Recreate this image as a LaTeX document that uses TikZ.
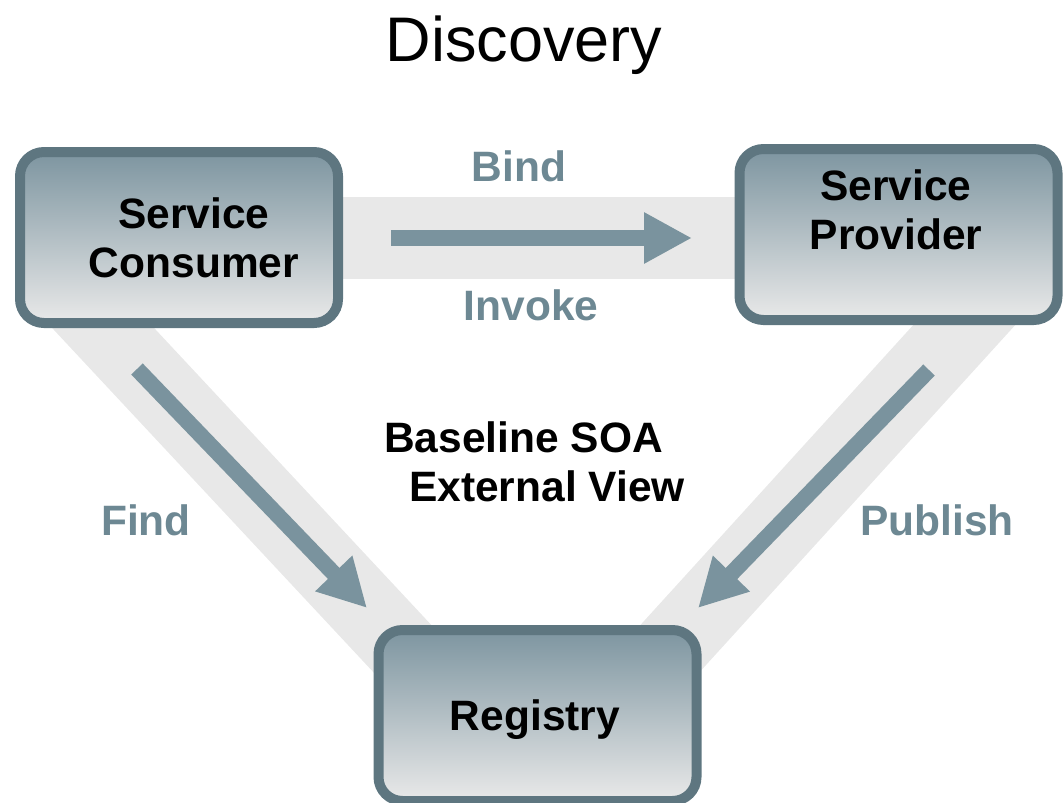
\documentclass[tikz,border=0pt]{standalone}
\usepackage{fontspec}
\setmainfont{Liberation Sans}
\usetikzlibrary{arrows.meta}

\definecolor{slateborder}{HTML}{5E7680}
\definecolor{slatetop}{HTML}{7D95A0}
\definecolor{slatemid}{HTML}{B9C4C9}
\definecolor{paleface}{HTML}{E9E9E9}
\definecolor{bandgray}{HTML}{E8E8E8}
\definecolor{arrowslate}{HTML}{7A939E}
\definecolor{labelslate}{HTML}{6D8893}

\begin{document}
\begin{tikzpicture}[x=1pt,y=-1pt,
  rolebox/.style={draw=slateborder, line width=10pt, rounded corners=24pt,
    top color=slatetop, middle color=slatemid, bottom color=paleface,
    minimum width=318pt, minimum height=171pt, inner sep=0pt},
  boxtext/.style={font=\fontsize{42.5}{49}\selectfont\bfseries, align=center,
    text=black, anchor=base, inner sep=0pt},
  flowlabel/.style={font=\fontsize{42.5}{49}\selectfont\bfseries,
    text=labelslate, anchor=base, inner sep=0pt},
  flow/.style={draw=arrowslate, line width=16pt, line cap=butt,
    -{Triangle[length=48pt,width=48pt]}},
  band/.style={fill=bandgray}]

\useasboundingbox (0,0) rectangle (1063,803);

% pale bands behind the three relations
\fill[band] (300,197) rectangle (780,279);
\fill[band] (26,300) -- (128,300) -- (520,720) -- (418,720) -- cycle;
\fill[band] (936,300) -- (1038,300) -- (656,720) -- (554,720) -- cycle;

% the three roles
\node[rolebox] (consumer) at (179,237.5) {};
\node[rolebox] (provider) at (898.5,234.5) {};
\node[rolebox] (registry) at (537.5,715.5) {};

% multi-line nodes sit on the baseline of their last line
\node[boxtext] (consumertext) at (194,277) {Service\\Consumer};
\node[boxtext] (providertext) at (896,249) {Service\\Provider};
\node[boxtext] (registrytext) at (535,730) {Registry};

% interaction arrows
\coordinate (bindtail) at (391,238);
\coordinate (bindtip) at (692,238);
\coordinate (findtail) at (137,369);
\coordinate (findtip) at (367,608);
\coordinate (pubtail) at (929,370);
\coordinate (pubtip) at (698,608);
\draw[flow] (bindtail) -- (bindtip);
\draw[flow] (findtail) -- (findtip);
\draw[flow] (pubtail) -- (pubtip);

% labels
\node[font=\fontsize{63}{70}\selectfont, anchor=base, inner sep=0pt] (title) at (524,61) {Discovery};
\node[flowlabel] (bind) at (519,181) {Bind};
\node[flowlabel] (invoke) at (531,320) {Invoke};
\node[flowlabel] (find) at (146,535) {Find};
\node[flowlabel] (publish) at (937,535) {Publish};
\node[boxtext] (view) at (523.5,501) {Baseline SOA\\\hspace*{47pt}External View};
\end{tikzpicture}
\end{document}
